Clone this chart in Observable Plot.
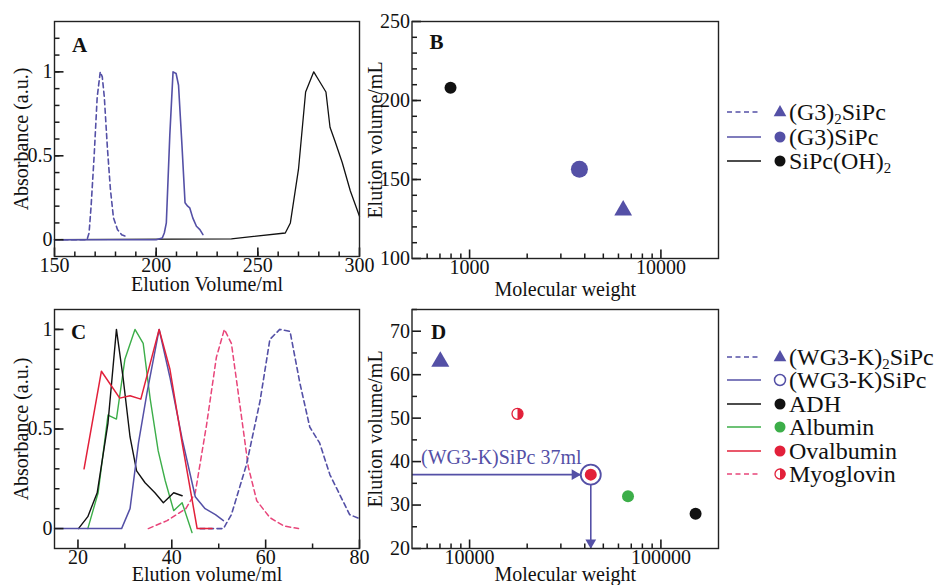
<!DOCTYPE html>
<html><head><meta charset="utf-8">
<script src="https://cdn.jsdelivr.net/npm/d3@7"></script>
<script src="https://cdn.jsdelivr.net/npm/@observablehq/plot@0.6"></script>
<style>
body{margin:0;background:#fff;}
#wrap{position:relative;width:938px;height:585px;overflow:hidden;background:#fff;font-family:"Liberation Serif","Times New Roman",serif;color:#111;}
.lrow{position:absolute;left:727px;height:22px;display:flex;align-items:center;font-size:24px;line-height:22px;white-space:nowrap;}
.lrow svg{flex:none;}
.lrow sub{font-size:0.62em;vertical-align:-0.3em;line-height:0;}
</style></head><body><div id="wrap"></div>
<script>
// ---------- DATA ----------
// Panel A: elution profiles [volume ml, absorbance]
const aG3_2SiPc = [[150,0],[166,0],[167,0.04],[168,0.2],[169.5,0.5],[171,0.85],[172.5,1],[173.5,0.97],[174.5,0.85],[176,0.55],[177.5,0.3],[179,0.13],[181,0.06],[183,0.03],[185,0.02]];
const aG3SiPc = [[150,0],[200,0],[203,0.01],[204,0.04],[205,0.1],[206.7,0.62],[208.3,1],[209.8,0.99],[211,0.92],[212.7,0.56],[214.2,0.22],[215.5,0.2],[216.5,0.19],[218,0.13],[219.8,0.08],[221.5,0.06],[223,0.03]];
const aSiPcOH2 = [[150,0],[237,0.005],[263.5,0.04],[266,0.1],[270,0.42],[273.5,0.88],[277.5,1],[280,0.95],[283.5,0.88],[285.5,0.67],[288,0.585],[291.5,0.46],[295.5,0.29],[300,0.14]];
// Panel B: molecular weight vs elution volume
const bNames = ["(G3)2SiPc","(G3)SiPc","SiPc(OH)2"];
const bMW = [6350, 3750, 795];
const bVol = [130.5, 156.5, 208];
// Panel C: elution profiles [volume ml, absorbance]
const cWG3K_2SiPc = [[46,0],[51,0],[52.7,0.07],[55.9,0.32],[58.8,0.64],[60.9,0.95],[63,1],[65.2,0.99],[67.3,0.73],[69.4,0.51],[71.5,0.43],[73.7,0.27],[75.8,0.17],[77.9,0.07],[80,0.05]];
const cWG3KSiPc = [[15,0],[29.3,0],[31.1,0.1],[32.9,0.43],[34.7,0.68],[37.3,1],[39.6,0.76],[42.2,0.45],[45,0.16],[47.1,0.1],[49.3,0.07],[51,0.04]];
const cADH = [[20.1,0],[22.1,0.06],[24.1,0.18],[26.4,0.53],[28.2,1],[29.6,0.76],[31.1,0.46],[32.5,0.29],[34.3,0.23],[36.4,0.18],[38.2,0.13],[40.4,0.18],[42.2,0.165]];
const cAlbumin = [[22.1,0],[24.3,0.18],[26.4,0.57],[28.2,0.55],[30,0.85],[32.15,1],[33.9,0.93],[35.4,0.65],[37.1,0.39],[38.6,0.24],[40.4,0.09],[42.2,0.13],[44.3,-0.02]];
const cOvalbumin = [[21.3,0.3],[25,0.79],[28.9,0.655],[31.1,0.667],[33.4,0.65],[37.3,1],[39.6,0.8],[42.2,0.43],[45.4,0],[48.6,0]];
const cMyoglovin = [[35,0],[39,0.04],[43,0.1],[45,0.18],[47.4,0.52],[49.5,0.86],[51.2,1],[52.7,0.93],[54.4,0.64],[56.3,0.31],[58.1,0.14],[60.9,0.055],[63.9,0.013],[67,0]];
// Panel D: calibration points
const dNames = ["(WG3-K)2SiPc","Myoglovin","Ovalbumin","Albumin","ADH"];
const dMW = [7030, 17800, 43000, 67300, 151800];
const dVol = [63, 51, 37, 32, 28];
const dEstimate = [{name:"(WG3-K)SiPc", mw:43000, vol:37, label:"(WG3-K)SiPc 37ml"}];
// Legends
const legendBLabels = ["(G3)<sub>2</sub>SiPc","(G3)SiPc","SiPc(OH)<sub>2</sub>"];
const legendDLabels = ["(WG3-K)<sub>2</sub>SiPc","(WG3-K)SiPc","ADH","Albumin","Ovalbumin","Myoglovin"];
// Axis text
const axisTitles = {aX:"Elution Volume/ml", aY:"Absorbance (a.u.)", bX:"Molecular weight", bY:"Elution volume/mL", cX:"Elution volume/ml", cY:"Absorbance (a.u.)", dX:"Molecular weight", dY:"Elution volume/mL"};

// ---------- STYLE ----------
const blue="#5450a6", red="#e2203a", pink="#e8457a", green="#3cae49", black="#111";
const FONT = '"Liberation Serif","Times New Roman",serif';
const TICK = "#1a1a1a";
const halfRight = {draw(ctx, size){const r=Math.sqrt(size/Math.PI); ctx.moveTo(0,-r); ctx.arc(0,0,r,-Math.PI/2,Math.PI/2); ctx.closePath();}};

function panel(cfg){
  const W = 938 - cfg.ml - cfg.mr, H = 585 - cfg.mt - cfg.mb;
  const [x0, x1] = cfg.xDomain, [y0, y1] = cfg.yDomain;
  const log = cfg.xType === "log";
  // value lying `len` pixels inside the frame's left / bottom edge
  const xIn = len => log ? x0 * Math.pow(x1 / x0, len / W) : x0 + (x1 - x0) * len / W;
  const yIn = len => y0 + (y1 - y0) * len / H;
  const xMinorT = cfg.xMinor.map(v => ({v, a: y0, b: yIn(5)}));
  const xMajorT = cfg.xTicks.map(v => ({v, a: y0, b: yIn(9)}));
  const yMinorT = cfg.yMinor.map(v => ({v, a: x0, b: xIn(5)}));
  const yMajorT = cfg.yTicks.map(v => ({v, a: x0, b: xIn(9)}));
  const marks = [
    ...cfg.marks,
    Plot.link(xMinorT, {x1: "v", x2: "v", y1: "a", y2: "b", stroke: TICK, strokeWidth: 1.5}),
    Plot.link(xMajorT, {x1: "v", x2: "v", y1: "a", y2: "b", stroke: TICK, strokeWidth: 1.6}),
    Plot.link(yMinorT, {y1: "v", y2: "v", x1: "a", x2: "b", stroke: TICK, strokeWidth: 1.5}),
    Plot.link(yMajorT, {y1: "v", y2: "v", x1: "a", x2: "b", stroke: TICK, strokeWidth: 1.6}),
    Plot.axisX({ticks: cfg.xTicks, tickSize: 0, tickPadding: 1, tickFormat: d => String(d), label: null}),
    Plot.axisY({ticks: cfg.yTicks, tickSize: 0, tickPadding: 2, tickFormat: d => String(d), label: null}),
    Plot.frame({stroke: "#222", strokeWidth: 1.4}),
    Plot.text([cfg.xTitle], {frameAnchor: "bottom", text: d => d, dy: cfg.xTitleDy, lineAnchor: "middle", textAnchor: "middle"}),
    Plot.text([cfg.yTitle], {frameAnchor: "left", text: d => d, rotate: -90, dx: cfg.yTitleDx, lineAnchor: "middle", textAnchor: "middle"}),
    Plot.text([cfg.letter], {frameAnchor: "top-left", text: d => d, dx: cfg.letterDx, dy: cfg.letterDy, fontWeight: "bold", fontSize: 21, lineAnchor: "middle", textAnchor: "middle"})
  ];
  const svg = Plot.plot({
    width: 938, height: 585,
    marginLeft: cfg.ml, marginRight: cfg.mr, marginTop: cfg.mt, marginBottom: cfg.mb,
    x: {type: cfg.xType || "linear", domain: cfg.xDomain},
    y: {domain: cfg.yDomain},
    style: {background: "transparent", fontFamily: FONT, fontSize: "20px", color: "#111", overflow: "visible"},
    marks
  });
  svg.style.position = "absolute"; svg.style.left = "0"; svg.style.top = "0";
  document.getElementById("wrap").appendChild(svg);
}

const lineOpts = (stroke, dashed, w=1.5) => ({x: d => d[0], y: d => d[1], stroke, strokeWidth: w, strokeDasharray: dashed ? "5,3.5" : null});

// Panel A
panel({
  ml: 54, mr: 579, mt: 21, mb: 329,
  xDomain: [150, 300], yDomain: [-0.1, 1.3],
  xTicks: [150,200,250,300], xMinor: d3.range(160, 300, 10),
  yTicks: [0, 0.5, 1], yMinor: d3.range(1, 13).map(i => i/10),
  xTitle: axisTitles.aX, yTitle: axisTitles.aY, xTitleDy: 28, yTitleDx: -33,
  letter: "A", letterDx: 25, letterDy: 24,
  marks: [
    Plot.line(aSiPcOH2, lineOpts(black, false, 1.3)),
    Plot.line(aG3SiPc, lineOpts(blue, false, 1.6)),
    Plot.line(aG3_2SiPc, lineOpts(blue, true, 1.6))
  ]
});

// Panel B
const bData = bNames.map((n,i) => ({name:n, mw:bMW[i], vol:bVol[i]}));
panel({
  ml: 411.5, mr: 220, mt: 21, mb: 327,
  xType: "log", xDomain: [500, 20000], yDomain: [100, 250],
  xTicks: [1000, 10000], xMinor: [600,700,800,900,2000,3000,4000,5000,6000,7000,8000,9000],
  yTicks: [100,150,200,250], yMinor: d3.range(110, 250, 10),
  xTitle: axisTitles.bX, yTitle: axisTitles.bY, xTitleDy: 31, yTitleDx: -36.5,
  letter: "B", letterDx: 24.5, letterDy: 21,
  marks: [
    Plot.dot(bData.filter(d => d.name === "SiPc(OH)2"), {x: "mw", y: "vol", r: 6, fill: black}),
    Plot.dot(bData.filter(d => d.name === "(G3)SiPc"), {x: "mw", y: "vol", r: 8.5, fill: blue}),
    Plot.dot(bData.filter(d => d.name === "(G3)2SiPc"), {x: "mw", y: "vol", r: 6.6, symbol: "triangle", fill: blue})
  ]
});

// Panel C
panel({
  ml: 54, mr: 579, mt: 309, mb: 37,
  xDomain: [15, 80], yDomain: [-0.1, 1.1],
  xTicks: [20,40,60,80], xMinor: [30,50,70],
  yTicks: [0, 0.5, 1], yMinor: d3.range(1, 11).map(i => i/10),
  xTitle: axisTitles.cX, yTitle: axisTitles.cY, xTitleDy: 26, yTitleDx: -33,
  letter: "C", letterDx: 24, letterDy: 23,
  marks: [
    Plot.line(cMyoglovin, lineOpts(pink, true, 1.5)),
    Plot.line(cWG3K_2SiPc, lineOpts(blue, true, 1.6)),
    Plot.line(cAlbumin, lineOpts(green, false, 1.4)),
    Plot.line(cADH, lineOpts(black, false, 1.4)),
    Plot.line(cWG3KSiPc, lineOpts(blue, false, 1.5)),
    Plot.line(cOvalbumin, lineOpts(red, false, 1.5))
  ]
});

// Panel D
const dData = dNames.map((n,i) => ({name:n, mw:dMW[i], vol:dVol[i]}));
const dColor = {"Myoglovin": red, "Ovalbumin": red, "Albumin": green, "ADH": black};
panel({
  ml: 411.5, mr: 220, mt: 309, mb: 37,
  xType: "log", xDomain: [5000, 200000], yDomain: [20, 75],
  xTicks: [10000, 100000], xMinor: [6000,7000,8000,9000,20000,30000,40000,50000,60000,70000,80000,90000],
  yTicks: [20,30,40,50,60,70], yMinor: [25,35,45,55,65,75],
  xTitle: axisTitles.dX, yTitle: axisTitles.dY, xTitleDy: 26, yTitleDx: -36.5,
  letter: "D", letterDx: 26.5, letterDy: 23,
  marks: [
    Plot.link(dEstimate, {x1: () => 5000, x2: "mw", y1: "vol", y2: "vol", stroke: blue, strokeWidth: 1.6}),
    Plot.link(dEstimate, {x1: "mw", x2: "mw", y1: "vol", y2: () => 20, stroke: blue, strokeWidth: 1.6}),
    Plot.dot(dEstimate, {x: "mw", y: "vol", r: 4, symbol: "triangle", rotate: 90, dx: -16, fill: blue}),
    Plot.dot(dEstimate, {x: "mw", y: () => 20, r: 4, symbol: "triangle", rotate: 180, dy: -6, fill: blue}),
    Plot.dot(dEstimate, {x: "mw", y: "vol", r: 10, fill: "white", stroke: blue, strokeWidth: 1.8}),
    Plot.text(dEstimate, {frameAnchor: "left", y: "vol", text: "label", dx: 9, dy: -17, textAnchor: "start", lineAnchor: "middle", fill: blue}),
    Plot.dot(dData.filter(d => d.name === "(WG3-K)2SiPc"), {x: "mw", y: "vol", r: 6.7, symbol: "triangle", fill: blue}),
    Plot.dot(dData.filter(d => d.name === "Myoglovin"), {x: "mw", y: "vol", r: 5.5, fill: "white", stroke: red, strokeWidth: 1.3}),
    Plot.dot(dData.filter(d => d.name === "Myoglovin"), {x: "mw", y: "vol", r: 5.5, symbol: halfRight, fill: red}),
    Plot.dot(dData.filter(d => ["Ovalbumin","Albumin","ADH"].includes(d.name)), {x: "mw", y: "vol", r: 6, fill: d => dColor[d.name]})
  ]
});

// ---------- LEGENDS ----------
const wrap = d3.select("#wrap");
function legendRow(top, label, stroke, dashed, marker){
  const row = wrap.append("div").attr("class","lrow").style("top", (top - 11) + "px");
  const s = row.append("svg").attr("width", 62).attr("height", 22);
  s.append("line").attr("x1", 0).attr("x2", 34).attr("y1", 11).attr("y2", 11)
    .attr("stroke", stroke).attr("stroke-width", 1.6).attr("stroke-dasharray", dashed ? "5,3.5" : null);
  const g = s.append("g").attr("transform", "translate(53,11)");
  if (marker.type === "triangle") g.append("path").attr("d", "M0,-7L6.3,4.2L-6.3,4.2Z").attr("fill", marker.color);
  else if (marker.type === "open") g.append("circle").attr("r", 5.5).attr("fill", "white").attr("stroke", marker.color).attr("stroke-width", 1.5);
  else if (marker.type === "half") {
    g.append("circle").attr("r", 5).attr("fill", "white").attr("stroke", marker.color).attr("stroke-width", 1.3);
    g.append("path").attr("d", "M0,-5.6A5.6,5.6 0 0 1 0,5.6Z").attr("fill", marker.color);
  }
  else g.append("circle").attr("r", 5.5).attr("fill", marker.color);
  row.append("span").html(label);
}
const legBStyle = [[blue,true,{type:"triangle",color:blue}],[blue,false,{type:"dot",color:blue}],[black,false,{type:"dot",color:black}]];
const legBRows = [112, 136.5, 161];
legendBLabels.forEach((l,i) => legendRow(legBRows[i], l, ...legBStyle[i]));
const legDStyle = [[blue,true,{type:"triangle",color:blue}],[blue,false,{type:"open",color:blue}],[black,false,{type:"dot",color:black}],[green,false,{type:"dot",color:green}],[red,false,{type:"dot",color:red}],[pink,true,{type:"half",color:red}]];
const legDRows = [356.5, 380, 403.5, 427, 450.5, 474];
legendDLabels.forEach((l,i) => legendRow(legDRows[i], l, ...legDStyle[i]));
</script></body></html>
